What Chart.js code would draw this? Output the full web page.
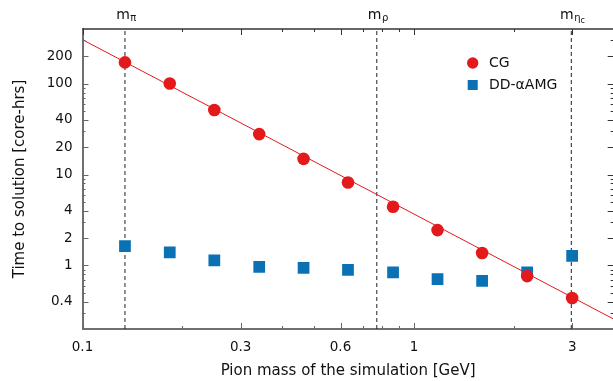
<!DOCTYPE html>
<html><head><meta charset="utf-8">
<script src="https://cdn.jsdelivr.net/npm/chart.js@4/dist/chart.umd.min.js"></script>
<style>html,body{margin:0;padding:0;overflow:hidden;background:#fff}</style>
</head><body>
<canvas id="c" width="622" height="381"></canvas>
<script>
// ---- data ----
const pionMass = [0.1343, 0.1833, 0.2498, 0.3412, 0.4642, 0.632, 0.8643, 1.177, 1.604, 2.193, 2.997];
const cgTime   = [171.6, 100.7, 51.3, 27.9, 14.9, 8.2, 4.43, 2.45, 1.37, 0.764, 0.438];
const ddTime   = [1.635, 1.39, 1.135, 0.968, 0.943, 0.897, 0.838, 0.708, 0.679, 0.838, 1.279];
const fitMass  = [0.1, 4.0];
const fitTime  = [305, 0.257];
const markerMass = [0.1343, 0.772, 2.98];
const markerSub  = ['π', 'ρ', 'η'];
const markerSub2 = ['', '', 'c'];
const xTicks   = [0.1,0.2,0.3,0.4,0.5,0.6,0.7,0.8,0.9,1,2,3,4];
const xLabeled = [0.1, 0.3, 0.6, 1, 3];
const yTicks   = [0.2,0.3,0.4,0.5,0.6,0.7,0.8,0.9,1,2,3,4,5,6,7,8,9,10,20,30,40,50,60,70,80,90,100,200,300,400];
const yLabeled = [0.4, 1, 2, 4, 10, 20, 40, 100, 200];
const seriesNames = ['CG', 'DD-αAMG'];

const RED = '#e3191c', BLUE = '#0a72b4';
const FONT = 'DejaVu Sans';

const markerDatasets = markerMass.map(m => ({
  label: 'marker', type: 'line',
  data: [{x: m, y: 0.2}, {x: m, y: 400}],
  borderColor: '#222', borderWidth: 1, borderDash: [4, 3],
  pointRadius: 0, order: 10, clip: false
}));

const decor = {
  id: 'decor',
  afterDatasetsDraw(chart) {
    const ctx = chart.ctx, a = chart.chartArea, xs = chart.scales.x, ys = chart.scales.y;
    ctx.save();
    ctx.lineWidth = 1;
    xTicks.forEach(v => {
      const px = Math.round(xs.getPixelForValue(v)) + 0.5;
      const L = xLabeled.includes(v) ? 6 : 3;
      ctx.strokeStyle = '#666';
      ctx.beginPath(); ctx.moveTo(px, a.bottom); ctx.lineTo(px, a.bottom - L); ctx.stroke();
      ctx.strokeStyle = '#333';
      ctx.beginPath(); ctx.moveTo(px, a.top); ctx.lineTo(px, a.top + L); ctx.stroke();
    });
    yTicks.forEach(v => {
      if (v <= 0.2 || v >= 400) return;
      const py = Math.round(ys.getPixelForValue(v)) + 0.5;
      const L = yLabeled.includes(v) ? 6 : 3;
      ctx.strokeStyle = '#666';
      ctx.beginPath(); ctx.moveTo(a.left, py); ctx.lineTo(a.left + L, py); ctx.stroke();
      ctx.strokeStyle = '#333';
      ctx.beginPath(); ctx.moveTo(a.right, py); ctx.lineTo(a.right - L, py); ctx.stroke();
    });
    ctx.strokeStyle = '#333'; ctx.lineWidth = 1.5;
    ctx.beginPath(); ctx.moveTo(a.left, a.top); ctx.lineTo(a.right, a.top); ctx.stroke();
    ctx.fillStyle = '#111'; ctx.textBaseline = 'alphabetic'; ctx.textAlign = 'left';
    markerMass.forEach((m, i) => {
      const px = xs.getPixelForValue(m);
      ctx.font = '14px "' + FONT + '"'; const w1 = ctx.measureText('m').width;
      ctx.font = '10px "' + FONT + '"'; const w2 = ctx.measureText(markerSub[i]).width;
      ctx.font = '8px "' + FONT + '"'; const w3 = markerSub2[i] ? ctx.measureText(markerSub2[i]).width : 0;
      let x0 = px - (w1 + w2 + w3) / 2 + 1;
      ctx.font = '14px "' + FONT + '"'; ctx.fillText('m', x0, 18.5);
      ctx.font = '10px "' + FONT + '"'; ctx.fillText(markerSub[i], x0 + w1 + 0.5, 21);
      if (w3) { ctx.font = '8px "' + FONT + '"'; ctx.fillText(markerSub2[i], x0 + w1 + w2 + 0.5, 23); }
    });
    const ds = chart.data.datasets;
    ctx.font = '14px "' + FONT + '"'; ctx.textBaseline = 'middle';
    ctx.fillStyle = ds[0].backgroundColor;
    ctx.beginPath(); ctx.arc(472.7, 63, 5.7, 0, Math.PI * 2); ctx.fill();
    ctx.fillStyle = '#111'; ctx.fillText(ds[0].label, 489, 63.5);
    ctx.fillStyle = ds[1].backgroundColor;
    ctx.fillRect(467.7, 80, 10, 10);
    ctx.fillStyle = '#111'; ctx.fillText(ds[1].label, 489, 85.5);
    ctx.restore();
  }
};

new Chart(document.getElementById('c'), {
  type: 'scatter',
  data: {
    datasets: [
      { label: seriesNames[0], data: pionMass.map((m, i) => ({x: m, y: cgTime[i]})),
        backgroundColor: RED, borderColor: RED, borderWidth: 0, pointStyle: 'circle', pointRadius: 6.3, order: 1 },
      { label: seriesNames[1], data: pionMass.map((m, i) => ({x: m, y: ddTime[i]})),
        backgroundColor: BLUE, borderColor: BLUE, borderWidth: 0, pointStyle: 'rect', pointRadius: 8.3, order: 2 },
      { label: 'fit', type: 'line', data: fitMass.map((m, i) => ({x: m, y: fitTime[i]})),
        borderColor: RED, borderWidth: 1, pointRadius: 0, order: 5 },
      ...markerDatasets
    ]
  },
  options: {
    responsive: false, animation: false,
    layout: { padding: { left: 0, top: 29, right: 2.8, bottom: 0 } },
    plugins: { legend: { display: false }, tooltip: { enabled: false } },
    scales: {
      x: {
        type: 'logarithmic', min: 0.1, max: 4,
        afterBuildTicks: s => { s.ticks = xTicks.map(v => ({value: v})); },
        afterFit: s => { s.height = 52; },
        ticks: { autoSkip: false, maxRotation: 0, minRotation: 0, padding: 0, color: '#111',
          font: { family: FONT, size: 13.5, lineHeight: '36px' },
          callback: v => xLabeled.includes(v) ? String(v) : '' },
        grid: { display: false, drawTicks: false },
        border: { display: true, color: '#707070', width: 2 },
        title: { display: true, text: 'Pion mass of the simulation [GeV]', color: '#111',
          font: { family: FONT, size: 15 }, padding: { top: 0, bottom: 1 } }
      },
      y: {
        type: 'logarithmic', min: 0.2, max: 400,
        afterBuildTicks: s => { s.ticks = yTicks.map(v => ({value: v})); },
        afterFit: s => { s.width = 82.5; },
        ticks: { autoSkip: false, padding: 10, color: '#111',
          font: { family: FONT, size: 13.5 },
          callback: v => yLabeled.includes(v) ? String(v) : '' },
        grid: { display: false, drawTicks: false },
        border: { display: true, color: '#707070', width: 2 },
        title: { display: true, text: 'Time to solution [core-hrs]', color: '#111',
          font: { family: FONT, size: 15 }, padding: { top: 11, bottom: 0 } }
      }
    }
  },
  plugins: [decor]
});
</script>
</body></html>
